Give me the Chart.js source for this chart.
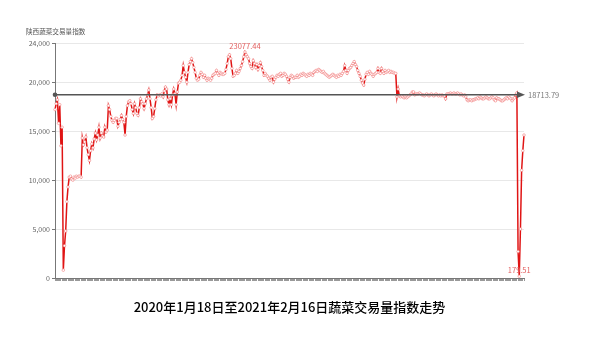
<!DOCTYPE html>
<html><head><meta charset="utf-8">
<script src="https://cdn.jsdelivr.net/npm/chart.js@4/dist/chart.umd.min.js"></script>
<style>html,body{margin:0;padding:0;background:#fff;}#wrap{width:597px;height:363px;}</style>
</head><body><div id="wrap"><canvas id="c" width="597" height="363"></canvas></div>
<script>
// ---- data (daily index values) ----
const startDate = [2020, 0, 18];   // 2020-01-18
const endDate = [2021, 1, 16];     // 2021-02-16
const v2020Jan = [17200,17800,18200,15800,17700,13500,15400,800,3300,4800,7800,9300,10300,10400];
const v2020Feb = [10100,10000,10300,10200,10400,10300,10400,10400,10300,14300,13600,13900,14400,13300,12600,12000,13000,13700,13300,14200,14800,14100,14600,15400,14300,14800,14500,14400,15400];
const v2020Mar = [14900,15100,17600,17200,16500,16100,15900,16100,16300,16300,15500,15900,16200,16600,16200,15900,14600,16500,17600,18000,18100,17800,17200,16800,17800,17400,16800,16600,17400,18300,18000];
const v2020Apr = [17800,17300,17800,18300,18700,19200,18300,17400,16300,16500,17300,18200,18700,18600,18700,18600,18800,18500,19100,19500,19300,18200,17700,18300,17700,18700,19300,18800,17700,19000];
const v2020May = [19900,20000,20200,20700,21700,21000,20500,20000,21000,21800,22100,22400,22000,21500,21000,20400,20200,20300,20700,21000,20800,20500,20700,20400,20200,20400,20300,20200,20400,20700,20800];
const v2020Jun = [20900,21200,20900,20700,21000,20900,20800,20800,20900,21300,21900,22600,22800,22400,21400,20600,20700,20900,21200,20900,21100,21400,21700,22100,22600,23077.44,22800,22600,22400,21900];
const v2020Jul = [21600,21400,22200,21900,21500,21800,21300,21700,22000,21600,21200,20700,20900,20700,20600,20400,20200,20500,20600,20000,20300,20500,20700,20600,20800,20900,20600,20700,20900,20800,20600];
const v2020Aug = [20300,20000,20500,20700,20600,20400,20500,20500,20700,20500,20600,20800,20700,20900,20800,20700,20600,20800,20700,20900,20800,20700,21000,21100,21200,21100,21300,21200,21100,21000,21100];
const v2020Sep = [20900,20800,20700,20600,20500,20600,20700,20800,20700,20600,20500,20700,20600,20800,20700,20900,21100,21700,21200,20900,21200,21400,21500,21700,21900,22100,21800,21600,21200,20900];
const v2020Oct = [20600,20200,19900,19700,20300,20800,21000,20800,21100,20900,20800,20600,20800,20900,21000,21400,21000,20900,21400,21100,20900,21200,21000,21100,21200,21000,21100,21000,21000,20900,20900];
const v2020Nov = [18500,19300,18600,18500,18600,18500,18400,18500,18400,18500,18600,18700,18800,19000,19000,18700,18800,18800,18800,18900,18800,18700,18700,18600,18700,18800,18700,18600,18700,18800];
const v2020Dec = [18700,18600,18700,18800,18700,18600,18700,18600,18700,18600,18600,18300,18800,18800,18800,18900,18800,18800,18900,18800,18800,18900,18800,18700,18800,18700,18600,18700,18500,18200,18100];
const v2021Jan = [18200,18200,18100,18200,18200,18300,18300,18400,18300,18500,18400,18300,18300,18400,18500,18400,18300,18300,18400,18500,18400,18200,18100,18400,18300,18300,18200,18100,18100,18200,18300];
const v2021Feb = [18400,18300,18500,18400,18300,18100,18300,18400,18700,18900,2700,179.51,5000,11000,13000,14600];
const averageValue = 18713.79;
const yTickValues = [0, 5000, 10000, 15000, 20000, 24000];
const yAxisName = '陕西蔬菜交易量指数';
const chartTitle = '2020年1月18日至2021年2月16日蔬菜交易量指数走势';

const values = [].concat(v2020Jan, v2020Feb, v2020Mar, v2020Apr, v2020May, v2020Jun, v2020Jul,
  v2020Aug, v2020Sep, v2020Oct, v2020Nov, v2020Dec, v2021Jan, v2021Feb);
const categories = [];
{
  const d = new Date(Date.UTC(startDate[0], startDate[1], startDate[2]));
  const e = new Date(Date.UTC(endDate[0], endDate[1], endDate[2]));
  while (d <= e) {
    categories.push(d.getUTCFullYear() + '-' + String(d.getUTCMonth() + 1).padStart(2, '0') + '-' + String(d.getUTCDate()).padStart(2, '0'));
    d.setUTCDate(d.getUTCDate() + 1);
  }
}

const FONT = '"Noto Sans CJK SC", "Noto Sans", sans-serif';

const overlay = {
  id: 'overlay',
  afterDatasetsDraw(chart) {
    const {ctx, chartArea, scales: {x, y}} = chart;
    ctx.save();
    // average mark line
    const yy = y.getPixelForValue(averageValue);
    ctx.strokeStyle = '#555';
    ctx.fillStyle = '#555';
    ctx.lineWidth = 1.5;
    ctx.beginPath();
    ctx.moveTo(chartArea.left, yy);
    ctx.lineTo(chartArea.right - 4, yy);
    ctx.stroke();
    ctx.beginPath();
    ctx.arc(chartArea.left, yy, 2.3, 0, Math.PI * 2);
    ctx.fill();
    ctx.beginPath();
    ctx.moveTo(chartArea.right + 1, yy);
    ctx.lineTo(chartArea.right - 7, yy - 3.2);
    ctx.lineTo(chartArea.right - 7, yy + 3.2);
    ctx.closePath();
    ctx.fill();
    ctx.font = '7.5px ' + FONT;
    ctx.fillStyle = '#777';
    ctx.textAlign = 'left';
    ctx.textBaseline = 'middle';
    ctx.fillText(averageValue.toFixed(2), chartArea.right + 4, yy);
    // max / min labels
    let iMax = 0, iMin = 0;
    values.forEach((v, i) => { if (v > values[iMax]) iMax = i; if (v < values[iMin]) iMin = i; });
    ctx.fillStyle = '#e35d5d';
    ctx.textAlign = 'center';
    ctx.font = '7.5px ' + FONT;
    [iMax, iMin].forEach(i => {
      const px = x.getPixelForValue(i);
      const py = y.getPixelForValue(values[i]);
      ctx.fillText(values[i].toFixed(2), px, py - 6);
    });
    // y axis name
    ctx.fillStyle = '#555';
    ctx.textAlign = 'left';
    ctx.font = '6.6px ' + FONT;
    ctx.fillText(yAxisName, 26, 31);
    ctx.restore();
  }
};

new Chart(document.getElementById('c'), {
  type: 'line',
  data: {
    labels: categories,
    datasets: [{
      data: values,
      borderColor: '#e01414',
      borderWidth: 1.5,
      pointRadius: 1.3,
      pointBorderWidth: 0.7,
      pointBackgroundColor: '#ffffff',
      pointBorderColor: 'rgba(240,120,120,0.8)',
      tension: 0,
      fill: false
    }]
  },
  options: {
    responsive: false,
    animation: false,
    events: [],
    layout: {padding: {left: 0, right: 73, top: 43, bottom: 47.7}},
    plugins: {
      legend: {display: false},
      tooltip: {enabled: false},
      title: {
        display: true,
        text: chartTitle,
        position: 'bottom',
        fullSize: false,
        color: '#000',
        font: {family: FONT, size: 13, weight: '500', lineHeight: 1.2},
        padding: {top: 11.7, bottom: 0}
      }
    },
    scales: {
      x: {
        type: 'category',
        offset: false,
        ticks: {display: false, autoSkip: false},
        grid: {drawOnChartArea: false, drawTicks: true, tickLength: 3, tickColor: '#999', lineWidth: 1},
        border: {color: '#777', width: 1},
        afterFit: s => { s.height = 10; }
      },
      y: {
        min: 0,
        max: 24000,
        afterBuildTicks: s => { s.ticks = yTickValues.map(v => ({value: v})); },
        ticks: {
          font: {family: FONT, size: 7},
          color: '#666',
          padding: 2,
          callback: v => Number(v).toLocaleString('en-US')
        },
        grid: {color: '#e8e8e8', tickColor: '#777', tickLength: 3},
        border: {color: '#777', width: 1},
        afterFit: s => { s.width = 55; }
      }
    }
  },
  plugins: [overlay]
});
</script>
</body></html>
